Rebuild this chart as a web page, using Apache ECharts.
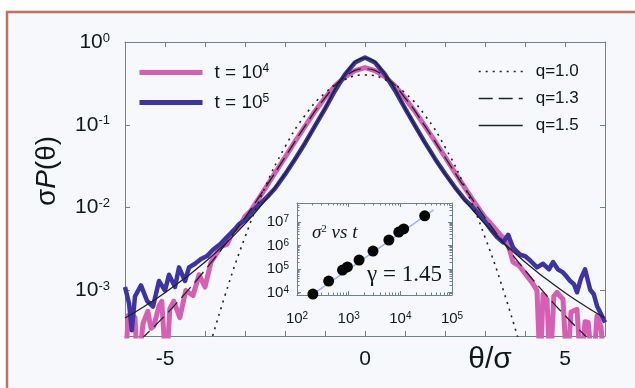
<!DOCTYPE html>
<html>
<head>
<meta charset="utf-8">
<script src="https://cdn.jsdelivr.net/npm/echarts/dist/echarts.min.js"></script>
<style>
  html, body { margin: 0; padding: 0; background: #fff; }
  #chart { width: 635px; height: 388px; }
</style>
</head>
<body>
<div id="chart"></div>
<script>
// main panel: sigma*P(theta) against theta/sigma (log y)
const blueX = [-6.0, -5.9, -5.83, -5.75, -5.6, -5.45, -5.3, -5.15, -5.0, -4.9,
  -4.75, -4.65, -4.5, -4.4, -4.25, -4.1, -3.95, -3.8, -3.6, -3.45,
  -3.3, -3.15, -3.0, -2.8, -2.6, -2.45, -2.25, -2.0, -1.75, -1.5,
  -1.25, -1.0, -0.75, -0.5, -0.25, 0, 0.25, 0.5, 0.75, 1.0,
  1.25, 1.5, 1.75, 2.0, 2.25, 2.5, 2.65, 2.85, 3.0, 3.15,
  3.3, 3.45, 3.58, 3.7, 3.88, 4.0, 4.13, 4.3, 4.45, 4.6,
  4.7, 4.82, 4.95, 5.05, 5.13, 5.22, 5.3, 5.4, 5.5, 5.63,
  5.72, 5.8, 5.9, 6.0]
const blueY = [0.0011, 0.0007, 0.00033, 0.00085, 0.00115, 0.00075, 0.00064, 0.0013, 0.001, 0.00155,
  0.0011, 0.0019, 0.0013, 0.0019, 0.0021, 0.0024, 0.0026, 0.0031, 0.0037, 0.0044,
  0.0052, 0.0063, 0.007, 0.0093, 0.0114, 0.0134, 0.017, 0.0252, 0.0385, 0.06,
  0.097, 0.156, 0.258, 0.405, 0.565, 0.65, 0.565, 0.405, 0.26, 0.158,
  0.098, 0.061, 0.039, 0.0258, 0.0176, 0.0124, 0.0106, 0.0083, 0.0068, 0.0054,
  0.0044, 0.0038, 0.0047, 0.0033, 0.0027, 0.0026, 0.0023, 0.0019, 0.0021, 0.0018,
  0.0022, 0.0018, 0.00165, 0.00145, 0.0013, 0.0012, 0.00095, 0.0014, 0.0018, 0.00102,
  0.0009, 0.00065, 0.00052, 0.00041]

const pinkX = [-6.0, -5.92, -5.83, -5.75, -5.68, -5.55, -5.43, -5.35, -5.28, -5.15,
  -5.08, -4.97, -4.88, -4.78, -4.63, -4.48, -4.3, -4.15, -4.0, -3.85,
  -3.75, -3.6, -3.45, -3.3, -3.15, -3.0, -2.85, -2.7, -2.5, -2.25,
  -2.0, -1.75, -1.5, -1.25, -1.0, -0.75, -0.5, -0.25, 0, 0.25,
  0.5, 0.75, 1.0, 1.25, 1.5, 1.75, 2.0, 2.25, 2.5, 2.75,
  3.0, 3.2, 3.4, 3.55, 3.7, 3.85, 4.05, 4.2, 4.3, 4.38,
  4.45, 4.55, 4.63, 4.72, 4.8, 4.9, 4.95, 5.05, 5.15, 5.3,
  5.4, 5.5, 5.58, 5.7, 5.8, 5.9, 6.0]
const pinkY = [0.0001, 0.0005, 0.00051, 0.00047, 0.0001, 0.0004, 0.00056, 0.00035, 0.00037, 0.00065,
  0.00074, 0.0001, 0.0006, 0.00074, 0.00047, 0.001, 0.00087, 0.00155, 0.0011, 0.0022,
  0.0026, 0.0034, 0.0036, 0.0052, 0.0058, 0.0078, 0.0092, 0.012, 0.0168, 0.0262,
  0.0405, 0.0625, 0.0955, 0.146, 0.212, 0.295, 0.378, 0.45, 0.49, 0.45,
  0.378, 0.296, 0.21, 0.145, 0.096, 0.063, 0.041, 0.0265, 0.0172, 0.0113,
  0.0076, 0.006, 0.0046, 0.004, 0.0022, 0.002, 0.0015, 0.0012, 0.001, 0.0001,
  0.0009, 0.00078, 0.0001, 0.00085, 0.00095, 0.00083, 0.00078, 0.0001, 0.00055, 0.00059,
  0.0001, 0.00042, 0.00041, 0.0001, 0.00049, 0.00036, 0.0001]

// q-gaussian reference curves, read on a 0.5 step
const qX = [-6, -5.5, -5, -4.5, -4, -3.5, -3, -2.5, -2, -1.5, -1, -0.5, 0,
  0.5, 1, 1.5, 2, 2.5, 3, 3.5, 4, 4.5, 5, 5.5, 6]
const q10Y = ['-', '-', '-', '-', 0.000134, 0.00087, 0.0044, 0.0175, 0.054, 0.13, 0.242, 0.352, 0.399,
  0.352, 0.242, 0.13, 0.054, 0.0175, 0.0044, 0.00087, 0.000134, '-', '-', '-', '-']
const q13Y = [0.000169, 0.000286, 0.000498, 0.000915, 0.00176, 0.00356, 0.0076, 0.0172, 0.0406, 0.0963, 0.212, 0.381, 0.475,
  0.381, 0.212, 0.0963, 0.0406, 0.0172, 0.0076, 0.00356, 0.00176, 0.000915, 0.000498, 0.000286, 0.000169]
const q15Y = [0.000465, 0.00065, 0.00094, 0.00141, 0.0022, 0.00363, 0.00637, 0.0121, 0.0255, 0.0603, 0.159, 0.407, 0.637,
  0.407, 0.159, 0.0603, 0.0255, 0.0121, 0.00637, 0.00363, 0.0022, 0.00141, 0.00094, 0.00065, 0.000465]

const xLabels = [-5, 0, 5]

// inset: sigma^2 vs t
const insetT = [203, 410, 760, 945, 1590, 2960, 6000, 9330, 11600, 29600]
const insetS2 = [8700, 31000, 91000, 123000, 240000, 580000, 1700000, 3700000, 5000000, 18000000]
const fitT = [160, 44000]
const fitS2 = [5900, 32000000]

const F = 'Liberation Sans'
const TXT = '#101818'
const AX = '#6f8288'
const PINK = '#d65fb3'
const BLUE = '#3b33a6'
const INK = '#1a2424'

const pairs = (xs, ys) => xs.map((x, i) => [x, ys[i]])

const powLabel = (v) => {
  const e = Math.log10(v)
  const k = Math.round(e)
  if (Math.abs(e - k) > 1e-6) return ''
  return '{b|10}{s|' + k + '}'
}
const supRich = (big, small) => ({
  b: { fontSize: big, fontFamily: F, color: TXT },
  s: { fontSize: small, fontFamily: F, color: TXT, verticalAlign: 'top' }
})

const frameLine = { show: true, onZero: false, lineStyle: { color: AX, width: 1 } }
const inTick = (len) => ({ show: true, inside: true, length: len, lineStyle: { color: AX } })

const chart = echarts.init(document.getElementById('chart'))

const option = {
  animation: false,
  backgroundColor: '#ffffff',
  grid: [
    { left: 125, top: 42, width: 480, height: 294, outerBoundsMode: 'none' },
    { left: 297, top: 203, width: 155, height: 92, outerBoundsMode: 'none' }
  ],
  legend: [
    {
      data: ['t = 10^4', 't = 10^5'],
      orient: 'vertical', left: 137, top: 63, padding: 0,
      itemWidth: 63, itemHeight: 12, itemGap: 11, selectedMode: false,
      lineStyle: { width: 5 },
      itemStyle: { opacity: 0 },
      formatter: (n) => n === 't = 10^4' ? '{b|t = 10}{s|4}' : '{b|t = 10}{s|5}',
      textStyle: { color: TXT, fontFamily: F, fontSize: 19, padding: [0, 0, 0, 7], rich: supRich(19, 12) }
    },
    {
      data: ['q=1.0', 'q=1.3', 'q=1.5'],
      orient: 'vertical', left: 478, top: 63, padding: 0,
      itemWidth: 44, itemHeight: 10, itemGap: 10, selectedMode: false,
      lineStyle: { width: 1.4 },
      itemStyle: { opacity: 0 },
      textStyle: { color: TXT, fontFamily: F, fontSize: 17, padding: [0, 0, 0, 8] }
    }
  ],
  xAxis: [
    {
      gridIndex: 0, type: 'value', min: -6, max: 6, interval: 1, position: 'bottom',
      axisLine: frameLine, axisTick: inTick(5), splitLine: { show: false },
      axisLabel: {
        margin: 13, color: TXT, fontFamily: F, fontSize: 21,
        formatter: (v) => xLabels.includes(v) ? String(v) : ''
      }
    },
    {
      gridIndex: 0, type: 'value', min: -6, max: 6, interval: 1, position: 'top',
      axisLine: frameLine, axisTick: inTick(5), splitLine: { show: false }, axisLabel: { show: false }
    },
    {
      gridIndex: 1, type: 'log', logBase: 10, min: 100, max: 100000, position: 'bottom',
      axisLine: frameLine, axisTick: inTick(4), splitLine: { show: false },
      minorTick: { show: true, splitNumber: 9, length: 2.5, lineStyle: { color: AX } },
      axisLabel: { margin: 16, formatter: powLabel, rich: supRich(15, 10) }
    },
    {
      gridIndex: 1, type: 'log', logBase: 10, min: 100, max: 100000, position: 'top',
      axisLine: frameLine, axisTick: inTick(4), splitLine: { show: false },
      minorTick: { show: true, splitNumber: 9, length: 2.5, lineStyle: { color: AX } },
      axisLabel: { show: false }
    }
  ],
  yAxis: [
    {
      gridIndex: 0, type: 'log', logBase: 10, min: Math.pow(10, -3.55), max: 1, position: 'left',
      axisLine: frameLine, axisTick: inTick(5), splitLine: { show: false },
      axisLabel: { margin: 15, formatter: powLabel, rich: supRich(21, 13) }
    },
    {
      gridIndex: 0, type: 'log', logBase: 10, min: Math.pow(10, -3.55), max: 1, position: 'right',
      axisLine: frameLine, axisTick: inTick(5), splitLine: { show: false }, axisLabel: { show: false }
    },
    {
      gridIndex: 1, type: 'log', logBase: 10, min: Math.pow(10, 3.9), max: Math.pow(10, 7.8), position: 'left',
      axisLine: frameLine, axisTick: inTick(4), splitLine: { show: false },
      minorTick: { show: true, splitNumber: 9, length: 2.5, lineStyle: { color: AX } },
      axisLabel: { margin: 8, formatter: powLabel, rich: supRich(15, 10) }
    },
    {
      gridIndex: 1, type: 'log', logBase: 10, min: Math.pow(10, 3.9), max: Math.pow(10, 7.8), position: 'right',
      axisLine: frameLine, axisTick: inTick(4), splitLine: { show: false },
      minorTick: { show: true, splitNumber: 9, length: 2.5, lineStyle: { color: AX } },
      axisLabel: { show: false }
    }
  ],
  series: [
    {
      name: 't = 10^4', type: 'line', xAxisIndex: 0, yAxisIndex: 0, data: pairs(pinkX, pinkY),
      symbol: 'none', clip: true, z: 2,
      itemStyle: { color: PINK }, lineStyle: { color: PINK, width: 5, join: 'round' }
    },
    {
      name: 't = 10^5', type: 'line', xAxisIndex: 0, yAxisIndex: 0, data: pairs(blueX, blueY),
      symbol: 'none', clip: true, z: 3,
      itemStyle: { color: BLUE }, lineStyle: { color: BLUE, width: 4.5, join: 'round' }
    },
    {
      name: 'q=1.0', type: 'line', xAxisIndex: 0, yAxisIndex: 0, data: pairs(qX, q10Y),
      symbol: 'none', smooth: 0.5, clip: true, z: 4,
      itemStyle: { color: INK }, lineStyle: { color: INK, width: 1.6, type: [2, 5] }
    },
    {
      name: 'q=1.3', type: 'line', xAxisIndex: 0, yAxisIndex: 0, data: pairs(qX, q13Y),
      symbol: 'none', smooth: 0.5, clip: true, z: 4,
      itemStyle: { color: INK }, lineStyle: { color: INK, width: 1.3, type: [14, 6] }
    },
    {
      name: 'q=1.5', type: 'line', xAxisIndex: 0, yAxisIndex: 0, data: pairs(qX, q15Y),
      symbol: 'none', smooth: 0.5, clip: true, z: 4,
      itemStyle: { color: INK }, lineStyle: { color: INK, width: 1.3 }
    },
    {
      type: 'line', xAxisIndex: 2, yAxisIndex: 2, data: pairs(fitT, fitS2),
      symbol: 'none', clip: true, z: 5,
      lineStyle: { color: '#a3b2ea', width: 1.5 }
    },
    {
      type: 'scatter', xAxisIndex: 2, yAxisIndex: 2, data: pairs(insetT, insetS2),
      symbol: 'circle', symbolSize: 11, z: 6,
      itemStyle: { color: '#050606', opacity: 1 }
    }
  ],
  graphic: [
    {
      type: 'rect', z: -10, silent: true,
      shape: { x: 7, y: 12, width: 660, height: 420 },
      style: { fill: '#f7f8fb', stroke: '#c0705e', lineWidth: 2.5 }
    },
    {
      type: 'text', x: 47, y: 171, rotation: Math.PI / 2, z: 10,
      style: {
        text: '{g|σ}{i|P}{g|(θ)}',
        align: 'center', verticalAlign: 'middle', textAlign: 'center', textVerticalAlign: 'middle',
        rich: {
          g: { fontSize: 28, fontFamily: F, fill: TXT },
          i: { fontSize: 28, fontFamily: F, fontStyle: 'italic', fill: TXT }
        }
      }
    },
    {
      type: 'text', x: 490, y: 360, z: 10,
      style: {
        text: 'θ/σ', font: '30px "Liberation Sans"', fill: TXT,
        align: 'center', verticalAlign: 'middle', textAlign: 'center', textVerticalAlign: 'middle'
      }
    },
    {
      type: 'text', x: 312, y: 233, z: 10,
      style: {
        text: '{i|σ}{s|2}{i| vs t}',
        align: 'left', verticalAlign: 'middle', textAlign: 'left', textVerticalAlign: 'middle',
        rich: {
          i: { fontSize: 19, fontFamily: 'Liberation Serif', fontStyle: 'italic', fill: TXT },
          s: { fontSize: 11, fontFamily: 'Liberation Serif', fill: TXT, verticalAlign: 'top' }
        }
      }
    },
    {
      type: 'text', x: 367, y: 275, z: 10,
      style: {
        text: 'γ = 1.45', font: '23px "Liberation Serif"', fill: TXT,
        align: 'left', verticalAlign: 'middle', textAlign: 'left', textVerticalAlign: 'middle'
      }
    }
  ]
}

chart.setOption(option)
</script>
</body>
</html>
